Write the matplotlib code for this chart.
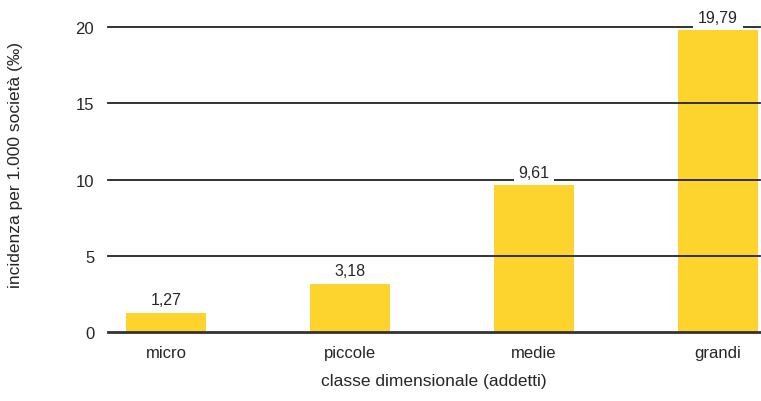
import matplotlib.pyplot as plt
import numpy as np

plt.rcParams["font.family"] = ["Liberation Sans", "DejaVu Sans"]

categories = ["micro", "piccole", "medie", "grandi"]
values = [1.27, 3.18, 9.61, 19.79]
value_labels = ["1,27", "3,18", "9,61", "19,79"]
yticks = [0, 5, 10, 15, 20]

TXT = "#262626"
fig = plt.figure(figsize=(7.61, 4.02), dpi=100)
ax = fig.add_axes([0.142, 0.1716, 0.857, 0.7587])

x = np.arange(len(categories))
ax.bar(x, values, width=0.435, color="#FDD32E", zorder=1)

# gridlines sit on top of the bars
for yt in yticks[1:]:
    ax.axhline(yt, color="#222222", lw=1.3, zorder=2, clip_on=False)
ax.axhline(0, color="#333333", lw=2.0, zorder=3, clip_on=False)

# value labels, white box cuts the gridline behind them
for xi, v, lab in zip(x, values, value_labels):
    ax.annotate(lab, (xi, v), xytext=(0, 9.5), textcoords="offset points",
                ha="center", va="center", fontsize=11.5, color=TXT,
                bbox=dict(boxstyle="square,pad=0.3", fc="white", ec="none"),
                zorder=4, annotation_clip=False)

ax.set_xlim(-0.315, 3.23)
ax.set_ylim(0, 20)
ax.set_xticks(x)
ax.set_xticklabels(categories, fontsize=12, color=TXT)
ax.set_yticks(yticks)
ax.set_yticklabels([str(t) for t in yticks], fontsize=12, color=TXT)
ax.tick_params(axis="x", length=0, pad=9)
ax.tick_params(axis="y", length=0, pad=10)
for s in ax.spines.values():
    s.set_visible(False)

ax.set_xlabel("classe dimensionale (addetti)", fontsize=12.5, color=TXT, labelpad=10)
fig.text(0.021, 0.59, "incidenza per 1.000 società (‰)", rotation=90,
         ha="center", va="center", fontsize=12.5, color=TXT)

fig.savefig("out.png", dpi=100)
